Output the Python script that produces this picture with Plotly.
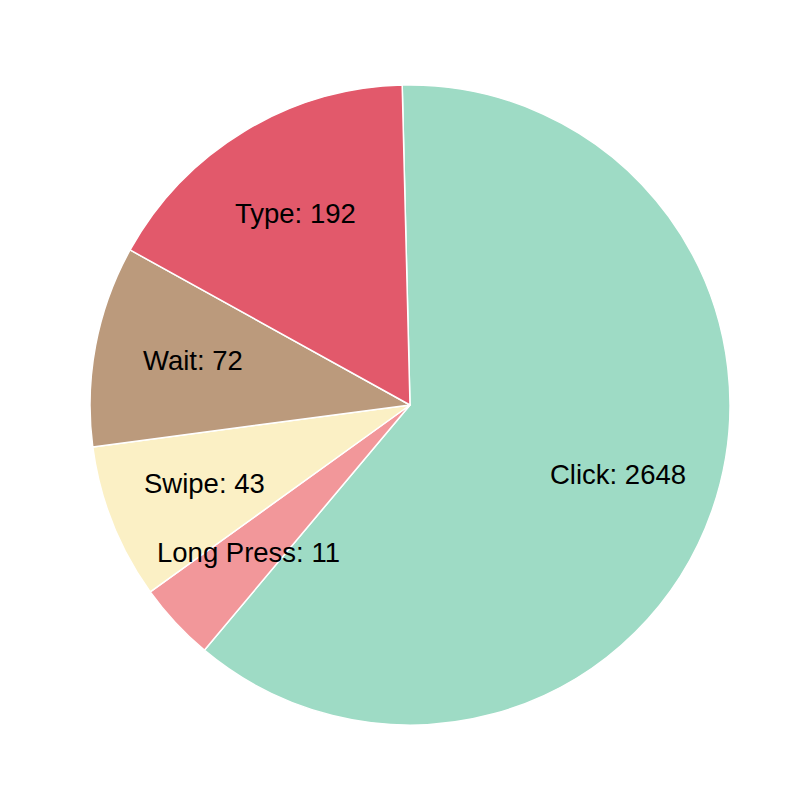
import math

import plotly.graph_objects as go

labels = ["Click", "Long Press", "Swipe", "Wait", "Type"]
counts = [2648, 11, 43, 72, 192]
colors = ["#9EDBC5", "#F2979A", "#FBF0C5", "#BB9A7C", "#E2596B"]

# slices are sized by the square root of the counts
sizes = [math.sqrt(c) for c in counts]
start_angle = -1.4  # degrees, clockwise from 12 o'clock
label_radius = 0.69

fig = go.Figure(
    go.Pie(
        labels=labels,
        values=sizes,
        sort=False,
        direction="clockwise",
        rotation=start_angle,
        marker=dict(colors=colors, line=dict(color="white", width=1.5)),
        textinfo="none",
        hoverinfo="label+text",
        text=[str(c) for c in counts],
        showlegend=False,
    )
)

# labels placed at the middle angle of each slice
total = sum(sizes)
acc = 0.0
for lab, cnt, s in zip(labels, counts, sizes):
    mid = math.radians(start_angle + 360 * (acc + s / 2) / total)
    acc += s
    fig.add_annotation(
        text=f"{lab}: {cnt}",
        xref="paper",
        yref="paper",
        x=0.5 + 0.5 * label_radius * math.sin(mid),
        y=0.5 + 0.5 * label_radius * math.cos(mid),
        yshift=3,
        showarrow=False,
        xanchor="center",
        yanchor="middle",
        font=dict(size=27.5, color="black"),
    )

fig.update_layout(
    width=800,
    height=800,
    margin=dict(l=82, r=78, t=77, b=83),
    paper_bgcolor="white",
    plot_bgcolor="white",
    font=dict(family="Arial, Liberation Sans, sans-serif"),
)

fig.write_html("out.html")
